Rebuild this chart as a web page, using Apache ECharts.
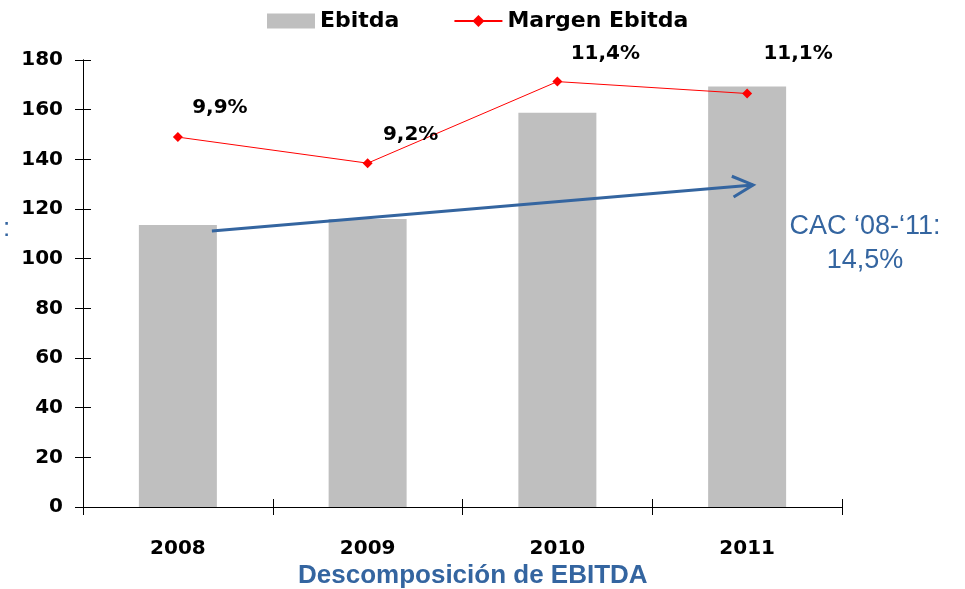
<!DOCTYPE html>
<html>
<head>
<meta charset="utf-8">
<script src="https://cdn.jsdelivr.net/npm/echarts@6/dist/echarts.min.js"></script>
<style>
    html, body { margin: 0; padding: 0; background: #fff; }
    #main { width: 965px; height: 589px; }
</style>
</head>
<body>
<div id="main"></div>
<script>
// datos
const years = ['2008', '2009', '2010', '2011'];
const ebitda = [113.6, 116.0, 158.8, 169.3];
const margen = [9.93, 9.23, 11.42, 11.1];
// tendencia CAC (valores del eje izquierdo al inicio y fin de la flecha)
const cacFrom = 111.1;
const cacTo = 129.7;

// desplazamiento de las etiquetas de margen
const labelShift = [[42, -9], [43, -8], [48, -8], [51, -20]];

const blue = '#3465a0';
const txtFont = 'DejaVu Sans';

let chart = echarts.init(document.getElementById('main'));

function yAxisBase(opt) {
    return echarts.util.merge({
        type: 'value',
        min: 0,
        max: 180,
        interval: 20,
        position: 'left',
        axisLine: {show: true, lineStyle: {color: '#000', width: 1}},
        axisTick: {show: true, length: 8, lineStyle: {color: '#000'}},
        splitLine: {show: false},
        axisLabel: {
            margin: 20,
            color: '#000',
            fontFamily: txtFont,
            fontWeight: 'bold',
            fontSize: 20
        }
    }, opt || {}, true);
}

function xAxisBase(opt) {
    return echarts.util.merge({
        type: 'category',
        data: years,
        boundaryGap: true,
        position: 'bottom',
        axisLine: {show: true, lineStyle: {color: '#000', width: 1}},
        axisTick: {show: true, length: 8, lineStyle: {color: '#000'}},
        axisLabel: {
            margin: 32,
            color: '#000',
            fontFamily: txtFont,
            fontWeight: 'bold',
            fontSize: 20
        }
    }, opt || {}, true);
}

let option = {
    animation: false,
    legend: {
        left: 267,
        top: 10,
        padding: 0,
        itemWidth: 48,
        itemHeight: 15,
        itemGap: 54,
        textStyle: {fontFamily: txtFont, fontWeight: 'bold', fontSize: 22, color: '#000'},
        data: [{name: 'Ebitda', icon: 'rect'}, {name: 'Margen Ebitda'}]
    },
    grid: {left: 83, right: 123, top: 60, bottom: 82},
    xAxis: [
        xAxisBase(),
        // marcas hacia dentro
        xAxisBase({axisTick: {inside: true}, axisLabel: {show: false}})
    ],
    yAxis: [
        yAxisBase(),
        {type: 'value', min: 0, max: 12, show: false},
        yAxisBase({axisTick: {inside: true}, axisLabel: {show: false}})
    ],
    title: {
        text: 'Descomposición de EBITDA',
        left: 298,
        top: 563,
        padding: 0,
        textStyle: {fontFamily: 'Liberation Sans', fontWeight: 'bold', fontSize: 26, color: blue}
    },
    series: [
        {
            name: 'Ebitda',
            type: 'bar',
            data: ebitda,
            barWidth: 78,
            itemStyle: {color: '#bfbfbf'}
        },
        {
            name: 'Margen Ebitda',
            type: 'line',
            yAxisIndex: 1,
            data: margen.map(function (v, i) {
                return {value: v, label: {offset: labelShift[i]}};
            }),
            symbol: 'diamond',
            symbolSize: 10,
            lineStyle: {color: '#ff0000', width: 1},
            itemStyle: {color: '#ff0000'},
            z: 5,
            label: {
                show: true,
                position: 'top',
                distance: 5,
                color: '#000',
                fontFamily: txtFont,
                fontWeight: 'bold',
                fontSize: 20,
                formatter: function (p) {
                    return p.value.toFixed(1).replace('.', ',') + '%';
                }
            }
        }
    ]
};

chart.setOption(option);

// flecha de tendencia CAC
let p0 = chart.convertToPixel({gridIndex: 0}, [0, cacFrom]);
let p1 = chart.convertToPixel({gridIndex: 0}, [3, cacTo]);
p0[0] += 34;
p1[0] += 6;

let ang = Math.atan2(p0[1] - p1[1], p0[0] - p1[0]);
let armLen = 23, spread = 27 * Math.PI / 180;
let armA = [p1[0] + armLen * Math.cos(ang + spread), p1[1] + armLen * Math.sin(ang + spread)];
let armB = [p1[0] + armLen * Math.cos(ang - spread), p1[1] + armLen * Math.sin(ang - spread)];

chart.setOption({
    graphic: [
        {
            type: 'line',
            z: 10,
            shape: {x1: p0[0], y1: p0[1], x2: p1[0], y2: p1[1]},
            style: {stroke: blue, lineWidth: 3}
        },
        {
            type: 'polyline',
            z: 10,
            shape: {points: [armA, p1, armB]},
            style: {stroke: blue, lineWidth: 3, fill: null}
        },
        {
            type: 'text',
            z: 10,
            x: 865,
            y: 244,
            style: {
                text: 'CAC \u201808-\u201811:\n14,5%',
                fill: blue,
                font: '27px "Liberation Sans"',
                lineHeight: 34,
                align: 'center',
                verticalAlign: 'middle'
            }
        },
        {
            type: 'text',
            z: 10,
            x: 3,
            y: 229,
            style: {
                text: ':',
                fill: blue,
                font: '26px "Liberation Sans"',
                verticalAlign: 'middle'
            }
        }
    ]
});
</script>
</body>
</html>
